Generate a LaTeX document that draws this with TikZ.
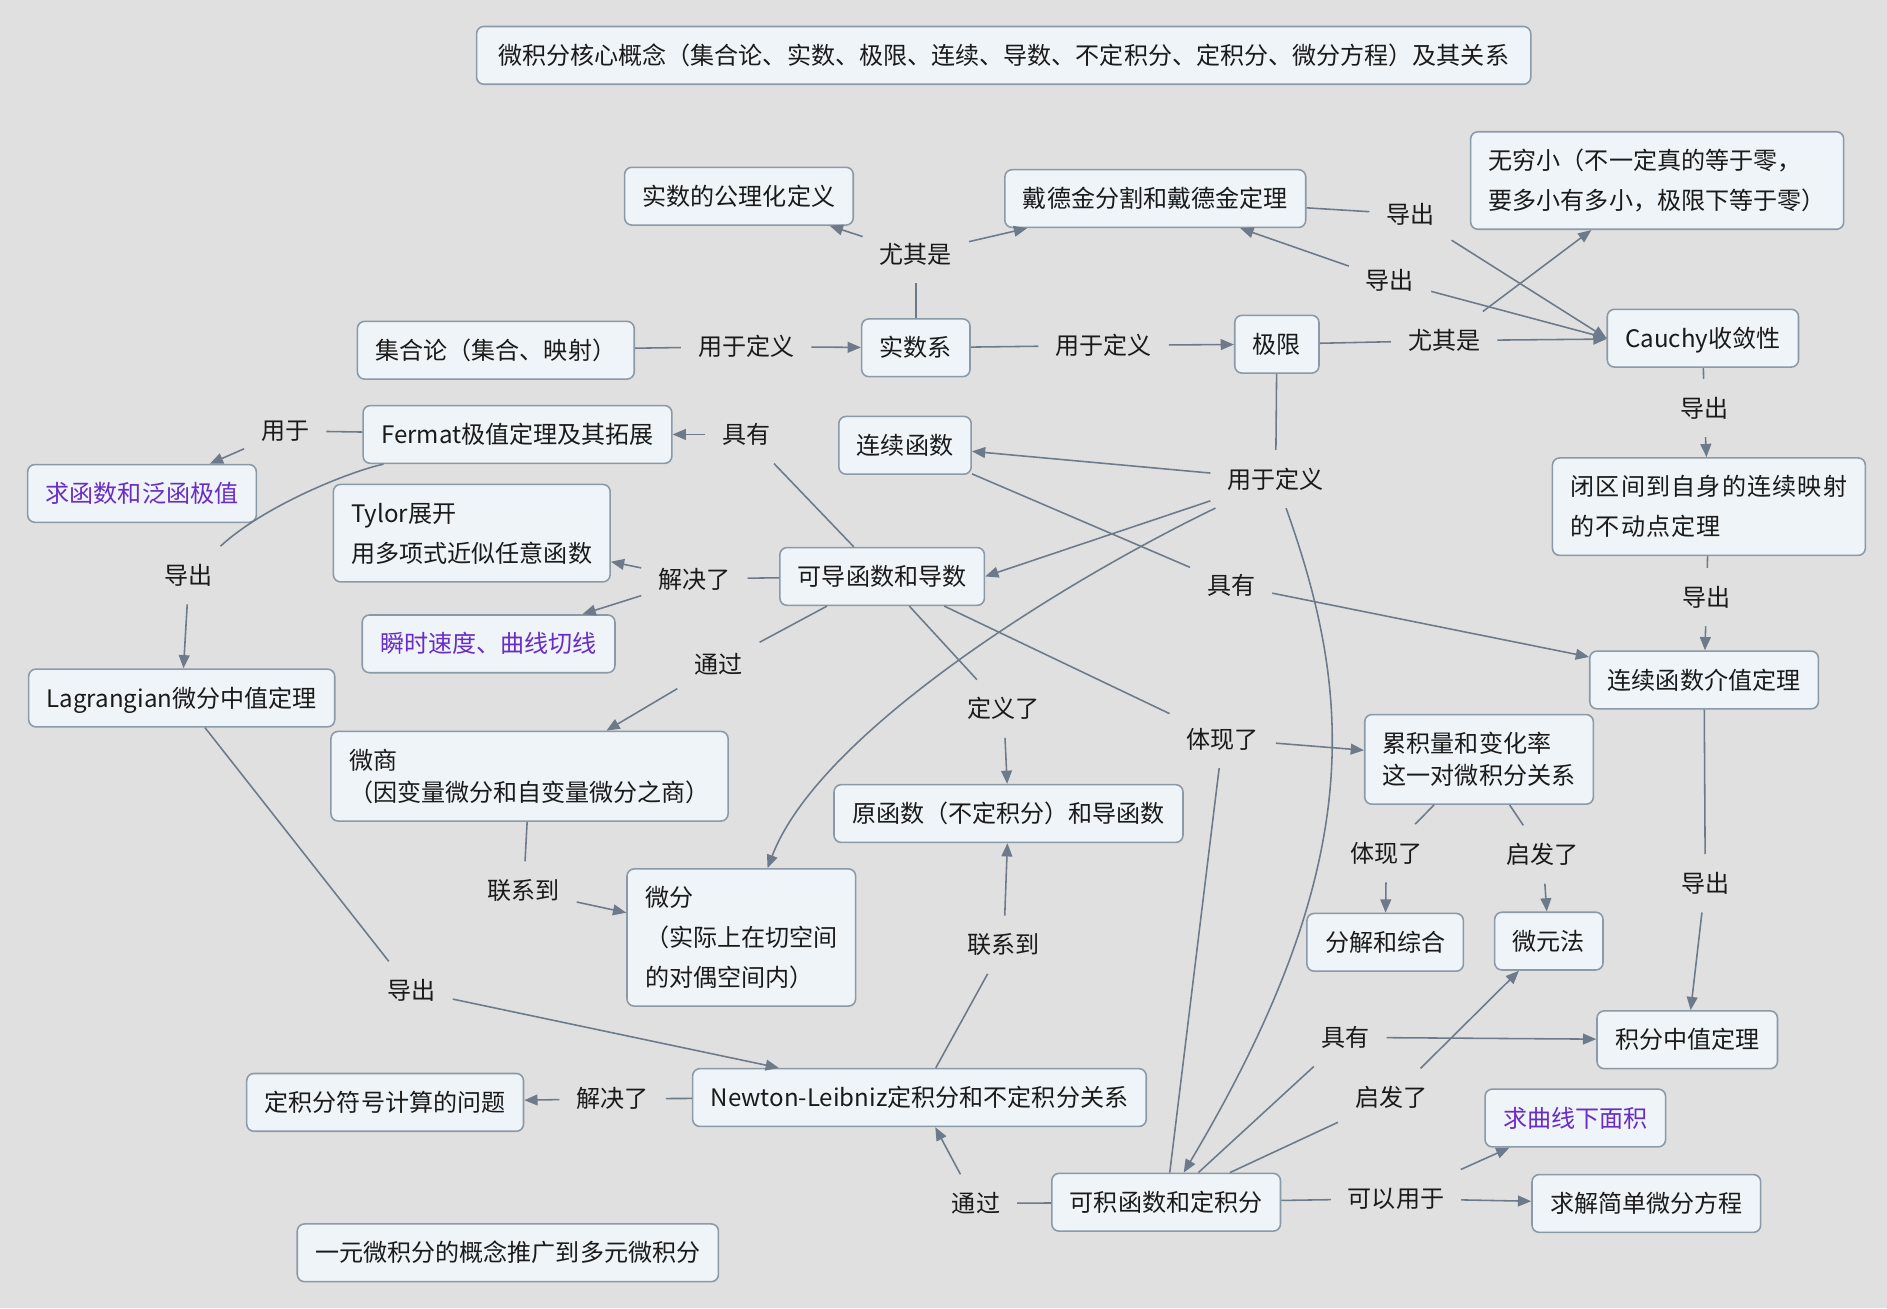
\documentclass[tikz,border=0pt]{standalone}
\usepackage{fontspec}
\setmainfont{Noto Sans CJK SC}
\newfontfamily\cjkmain{Noto Sans CJK SC}
\newfontfamily\cjkspaced[LetterSpace=5]{Noto Sans CJK SC}
\usetikzlibrary{arrows.meta,calc}
\definecolor{bgc}{RGB}{224,224,224}
\definecolor{boxfill}{RGB}{238,244,247}
\definecolor{boxdraw}{RGB}{140,153,166}
\definecolor{edgec}{RGB}{108,122,138}
\definecolor{txtc}{RGB}{26,26,26}
\definecolor{purp}{RGB}{104,44,200}
\newcommand\mystrut{\rule[-2.4pt]{0pt}{20pt}}
\newcommand\myfont{\cjkmain\fontsize{20pt}{33pt}\selectfont}
\newcommand\myfontt{\cjkmain\fontsize{20pt}{26.5pt}\selectfont}
\newcommand\myfonts{\cjkspaced\fontsize{20pt}{33pt}\selectfont}
\begin{document}
\begin{tikzpicture}[x=1pt,y=-1pt,
  basebox/.style={draw=boxdraw, fill=boxfill, line width=1.3pt, rounded corners=6pt,
    inner xsep=15pt, inner ysep=14pt, font=\myfont, text=txtc},
  box/.style={basebox, text height=17.6pt, text depth=2.4pt},
  mbox/.style={basebox, align=left},
  pbox/.style={box, text=purp},
  lab/.style={font=\myfont, text=txtc, inner xsep=14pt, inner ysep=14pt,
    text height=17.6pt, text depth=2.4pt},
  ln/.style={draw=edgec, line width=1.3pt},
  ar/.style={ln, -{Triangle[length=11pt,width=9pt]}}]
\fill[bgc] (0,0) rectangle (1568,1087);
\useasboundingbox (0,0) rectangle (1568,1087);

% ---------- boxes ----------
\node[box, inner xsep=18pt] (title) at (834,46) {微积分核心概念（集合论、实数、极限、连续、导数、不定积分、定积分、微分方程）及其关系};
\node[box] (gl) at (614,163) {实数的公理化定义};
\node[box] (ddj) at (960,165) {戴德金分割和戴德金定理};
\node[mbox] (wqx) at (1377,150) {\mystrut 无穷小（不一定真的等于零，\\\mystrut 要多小有多小，极限下等于零）};
\node[box] (jhl) at (412,291) {集合论（集合、映射）};
\node[box] (ssx) at (761,289) {实数系};
\node[box] (jx) at (1061,286) {极限};
\node[box] (cau) at (1415,281) {Cauchy收敛性};
\node[box] (fer) at (430,361) {Fermat极值定理及其拓展};
\node[pbox] (qhs) at (118,410) {求函数和泛函极值};
\node[box] (lxhs) at (752,370) {连续函数};
\node[mbox, font=\myfonts] (bqj) at (1420,421) {\mystrut 闭区间到自身的连续映射\\\mystrut 的不动点定理};
\node[mbox] (tyl) at (392,443) {\mystrut Tylor展开\\\mystrut 用多项式近似任意函数};
\node[box] (kd) at (733,479) {可导函数和导数};
\node[pbox] (ss) at (406,535) {瞬时速度、曲线切线};
\node[box] (lag) at (151,580) {Lagrangian微分中值定理};
\node[box] (jzd) at (1416,565) {连续函数介值定理};
\node[mbox, font=\myfontt] (ws) at (440,645) {\mystrut 微商\\\mystrut （因变量微分和自变量微分之商）};
\node[mbox, font=\myfontt] (ljl) at (1229,631) {\mystrut 累积量和变化率\\\mystrut 这一对微积分关系};
\node[box] (yhs) at (838,676) {原函数（不定积分）和导函数};
\node[mbox] (wf) at (616,779) {\mystrut 微分\\\mystrut （实际上在切空间\\\mystrut 的对偶空间内）};
\node[box] (fj) at (1151,783) {分解和综合};
\node[box] (wyf) at (1287,782) {微元法};
\node[box] (jfzz) at (1402,864) {积分中值定理};
\node[box] (djf) at (320,916) {定积分符号计算的问题};
\node[box] (nl) at (764,912) {Newton-Leibniz定积分和不定积分关系};
\node[pbox] (qmj) at (1309,929) {求曲线下面积};
\node[box] (kj) at (969,999) {可积函数和定积分};
\node[box] (qj) at (1368,1000) {求解简单微分方程};
\node[box] (ty) at (422,1041) {一元微积分的概念推广到多元微积分};

% ---------- labels ----------
\node[lab] (la1) at (761,211) {尤其是};
\node[lab] (la2) at (620,288) {用于定义};
\node[lab] (la3) at (917,287) {用于定义};
\node[lab] (la4) at (1200,283) {尤其是};
\node[lab] (la5) at (1172,178) {导出};
\node[lab] (la6) at (1155,233) {导出};
\node[lab] (la7) at (1416,339) {导出};
\node[lab] (la8) at (1418,496) {导出};
\node[lab] (la9) at (1417,734) {导出};
\node[lab] (la10) at (237,358) {用于};
\node[lab] (la11) at (620,361) {具有};
\node[lab] (la12) at (1060,398) {用于定义};
\node[lab] (la13) at (157,478) {导出};
\node[lab] (la14) at (577,481) {解决了};
\node[lab] (la15) at (1023,486) {具有};
\node[lab] (la16) at (597,552) {通过};
\node[lab] (la17) at (834,589) {定义了};
\node[lab] (la18) at (1016,614) {体现了};
\node[lab] (la19) at (1152,709) {体现了};
\node[lab] (la20) at (1282,710) {启发了};
\node[lab] (la21) at (435,740) {联系到};
\node[lab] (la22) at (834,785) {联系到};
\node[lab] (la23) at (342,823) {导出};
\node[lab] (la24) at (1118,862) {具有};
\node[lab] (la25) at (1156,912) {启发了};
\node[lab] (la26) at (509,913) {解决了};
\node[lab] (la27) at (811,1000) {通过};
\node[lab] (la28) at (1160,996) {可以用于};

% ---------- connectors ----------
\draw[ln] (jhl) -- (la2);   \draw[ar] (la2) -- (ssx);
\draw[ln] (ssx) -- (la1);   \draw[ar] (la1) -- (gl);  \draw[ar] (la1) -- (ddj);
\draw[ln] (ssx) -- (la3);   \draw[ar] (la3) -- (jx);
\draw[ln] (jx) -- (la4);    \draw[ar] (la4) -- (cau); \draw[ar] (la4) -- (wqx);
\draw[ln] (ddj) -- (la5);   \draw[ar] (la5) -- (cau.west);
\draw[ln] (cau.west) -- (la6); \draw[ar] (la6) -- (ddj);
\draw[ln] (cau) -- (la7);   \draw[ar] (la7) -- (bqj);
\draw[ln] (bqj) -- (la8);   \draw[ar] (la8) -- (jzd);
\draw[ln] (jzd) -- (la9);   \draw[ar] (la9) -- (jfzz);
\draw[ln] (fer) -- (la10);  \draw[ar] (la10) -- (qhs);
\draw[ln] (kd) -- (la11);   \draw[ar] (la11) -- (fer);
\draw[ln] (jx) -- (la12);
\draw[ar] (la12) -- (lxhs);
\draw[ar] (la12) -- (kd.east);
\draw[ar] (la12) .. controls ($(la12)+(-180,87)$) and ($(wf)+(64,-169)$) .. (wf);
\draw[ar] (la12) .. controls ($(la12)+(65,182)$) and ($(kj)+(166,-279)$) .. (kj);
\draw[ln] (fer) .. controls ($(fer)+(-140,31)$) and ($(la13)+(63,-58)$) .. (la13);
\draw[ar] (la13) -- (lag);
\draw[ln] (kd) -- (la14);   \draw[ar] (la14) -- (tyl); \draw[ar] (la14) -- (ss);
\draw[ln] (lxhs) -- (la15); \draw[ar] (la15) -- (jzd);
\draw[ln] (kd) -- (la16);   \draw[ar] (la16) -- (ws);
\draw[ln] (kd) -- (la17);   \draw[ar] (la17) -- (yhs);
\draw[ln] (kd) -- (la18);   \draw[ln] (kj) -- (la18); \draw[ar] (la18) -- (ljl);
\draw[ln] (ljl) -- (la19);  \draw[ar] (la19) -- (fj);
\draw[ln] (ljl) -- (la20);  \draw[ar] (la20) -- (wyf);
\draw[ln] (ws) -- (la21);   \draw[ar] (la21) -- (wf);
\draw[ln] (nl) -- (la22);   \draw[ar] (la22) -- (yhs);
\draw[ln] (lag) -- (la23);  \draw[ar] (la23) -- (nl);
\draw[ln] (kj) -- (la24);   \draw[ar] (la24) -- (jfzz);
\draw[ln] (kj) -- (la25);   \draw[ar] (la25) -- (wyf);
\draw[ln] (nl) -- (la26);   \draw[ar] (la26) -- (djf);
\draw[ln] (kj) -- (la27);   \draw[ar] (la27) -- (nl);
\draw[ln] (kj) -- (la28);   \draw[ar] (la28) -- (qmj); \draw[ar] (la28) -- (qj);
\end{tikzpicture}
\end{document}
